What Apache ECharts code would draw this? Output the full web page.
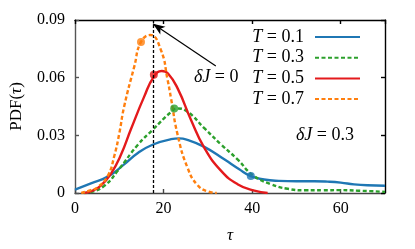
<!DOCTYPE html>
<html><head><meta charset="utf-8">
<script src="https://cdn.jsdelivr.net/npm/echarts@6/dist/echarts.min.js"></script>
<style>html,body{margin:0;padding:0;background:#fff}#c{width:415px;height:249px}</style>
</head><body><div id="c"></div>
<script>
const xTicks = [0, 20, 40, 60];
const yTicks = [0, 0.03, 0.06, 0.09];
const seriesNames = ['T = 0.1', 'T = 0.3', 'T = 0.5', 'T = 0.7'];

const tau01 = [0, 3.6, 7.4, 11.1, 14.2, 17.5, 21.7, 23.5, 25.2, 29.2, 33.7, 37, 39.7, 42.7, 46, 50, 54, 57, 60, 63, 66, 70];
const pdf01 = [0.0017, 0.0050, 0.0085, 0.0149, 0.0208, 0.0251, 0.0280, 0.0284, 0.0278, 0.0240, 0.0175, 0.0125, 0.0088, 0.0070, 0.0063, 0.0061, 0.0061, 0.0059, 0.0054, 0.0045, 0.0040, 0.0038];

const tau03 = [2, 3.6, 6.6, 9.6, 14.2, 17.5, 21.7, 23, 25.4, 29.2, 33, 36.7, 40.1, 44.2, 48, 52, 56, 60, 64, 70];
const pdf03 = [0, 0.0005, 0.0037, 0.0114, 0.0251, 0.0328, 0.0422, 0.0440, 0.0423, 0.0337, 0.0252, 0.0175, 0.0094, 0.0046, 0.0022, 0.0014, 0.0014, 0.0015, 0.0012, 0.0006];

const tau05 = [2.1, 4, 5.9, 8.1, 10.4, 12.6, 15.6, 17.8, 19.6, 21, 23.2, 26.2, 29.2, 33, 36.7, 40.5, 43.5];
const pdf05 = [0, 0.0012, 0.0040, 0.0100, 0.020, 0.033, 0.050, 0.0605, 0.0635, 0.0622, 0.0543, 0.0380, 0.0235, 0.0115, 0.0046, 0.0012, 0];

const tau07 = [1.4, 3.6, 5.1, 7.4, 8.9, 10, 11.1, 13.4, 14.9, 17.0, 19.4, 20.9, 21.7, 23.2, 25.4, 27.7, 30, 32];
const pdf07 = [0, 0.0015, 0.003, 0.0089, 0.0195, 0.031, 0.0450, 0.0659, 0.0786, 0.0822, 0.0744, 0.0590, 0.049, 0.0300, 0.0132, 0.0040, 0.0008, 0];

const markerTau = [39.7, 22.4, 17.8, 14.9];
const markerPdf = [0.0088, 0.0440, 0.0615, 0.0786];

const deltaJ0Tau = 17.6;
const arrowFrom = [31.8, 0.0661];
const arrowTo = [17.6, 0.0880];

const colors = ['#1f77b4', '#2ca02c', '#e41a1c', '#ff7f0e'];
const dashed = [false, true, false, true];
const taus = [tau01, tau03, tau05, tau07];
const pdfs = [pdf01, pdf03, pdf05, pdf07];

const FONT = 'Liberation Serif';
const zip = (a, b) => a.map((v, i) => [v, b[i]]);

const series = [];
seriesNames.forEach((name, k) => {
  series.push({
    name, type: 'line', data: zip(taus[k], pdfs[k]), smooth: 0.5,
    symbol: 'none', showSymbol: false, z: 3 + k,
    lineStyle: { color: colors[k], width: 2.4, type: dashed[k] ? [4, 2.5] : 'solid' },
    itemStyle: { color: colors[k] }
  });
});
seriesNames.forEach((name, k) => {
  series.push({
    type: 'scatter', data: [[markerTau[k], markerPdf[k]]], symbolSize: 8, z: 10,
    itemStyle: { color: colors[k] }, silent: true
  });
});
series[0].markLine = {
  silent: true, animation: false, label: { show: false }, z: 20,
  data: [
    [{ coord: [deltaJ0Tau, 0], symbol: 'none', lineStyle: { type: [3, 2], color: '#000', width: 1.3 } },
     { coord: [deltaJ0Tau, 0.09], symbol: 'none' }],
    [{ coord: arrowFrom, symbol: 'none', lineStyle: { type: 'solid', color: '#000', width: 1.2 } },
     { coord: arrowTo, symbol: 'arrow', symbolSize: [7, 12] }]
  ]
};

const ls = (c) => ({ color: c, width: 1.4 });
const chart = echarts.init(document.getElementById('c'));
chart.setOption({
  animation: false,
  grid: { left: 74, right: 30, top: 20, bottom: 53 },
  xAxis: [{
    type: 'value', min: 0, max: 70, interval: 20,
    name: 'τ', nameLocation: 'middle', nameGap: 34,
    nameTextStyle: { fontFamily: FONT, fontSize: 17, fontStyle: 'italic', color: '#000' },
    axisLine: { show: true, onZero: false, lineStyle: ls('#444') }, splitLine: { show: false },
    axisTick: { show: true, inside: true, length: 4, lineStyle: ls('#444') },
    axisLabel: { fontFamily: FONT, fontSize: 16, color: '#000', margin: 8, showMaxLabel: false,
      formatter: v => xTicks.includes(v) ? String(v) : '' }
  }, {
    type: 'value', min: 0, max: 70, interval: 20, position: 'top',
    axisLine: { show: true, onZero: false, lineStyle: ls('#000') }, splitLine: { show: false },
    axisTick: { show: true, inside: true, length: 4, lineStyle: ls('#000') }, axisLabel: { show: false }
  }],
  yAxis: [{
    type: 'value', min: 0, max: 0.09, interval: 0.03,
    name: 'PDF({i|τ})', nameLocation: 'middle', nameGap: 50, nameRotate: 90,
    nameTextStyle: { fontFamily: FONT, fontSize: 17, color: '#000',
      rich: { i: { fontFamily: FONT, fontSize: 17, fontStyle: 'italic', color: '#000' } } },
    axisLine: { show: true, onZero: false, lineStyle: ls('#555') }, splitLine: { show: false },
    axisTick: { show: true, inside: true, length: 4, lineStyle: ls('#555') },
    axisLabel: { fontFamily: FONT, fontSize: 16, color: '#000', margin: 10,
      formatter: v => { const t = yTicks.find(y => Math.abs(y - v) < 1e-9); return t === undefined ? '' : (t === 0 ? '0' : t.toFixed(2)); } }
  }, {
    type: 'value', min: 0, max: 0.09, interval: 0.03, position: 'right',
    axisLine: { show: true, onZero: false, lineStyle: ls('#000') }, splitLine: { show: false },
    axisTick: { show: true, inside: true, length: 4, lineStyle: ls('#000') }, axisLabel: { show: false }
  }],
  legend: {
    data: seriesNames, orient: 'vertical', align: 'right', right: 49, top: 23,
    itemWidth: 45, itemHeight: 14, itemGap: 2.7,
    itemStyle: { opacity: 0 },
    textStyle: { fontFamily: FONT, fontSize: 18, color: '#000', padding: [0, 6, 0, 0],
      rich: { i: { fontFamily: FONT, fontSize: 18, fontStyle: 'italic', color: '#000' } } },
    formatter: n => '{i|T}' + n.slice(1),
    selectedMode: false
  },
  graphic: [
    { type: 'text', left: 194, top: 68, style: { text: '{i|δJ} = 0', font: '18px ' + FONT, fill: '#000',
      rich: { i: { fontFamily: FONT, fontSize: 18, fontStyle: 'italic', fill: '#000' } } } },
    { type: 'text', left: 296, top: 126, style: { text: '{i|δJ} = 0.3', font: '18px ' + FONT, fill: '#000',
      rich: { i: { fontFamily: FONT, fontSize: 18, fontStyle: 'italic', fill: '#000' } } } }
  ],
  series
});
</script></body></html>
